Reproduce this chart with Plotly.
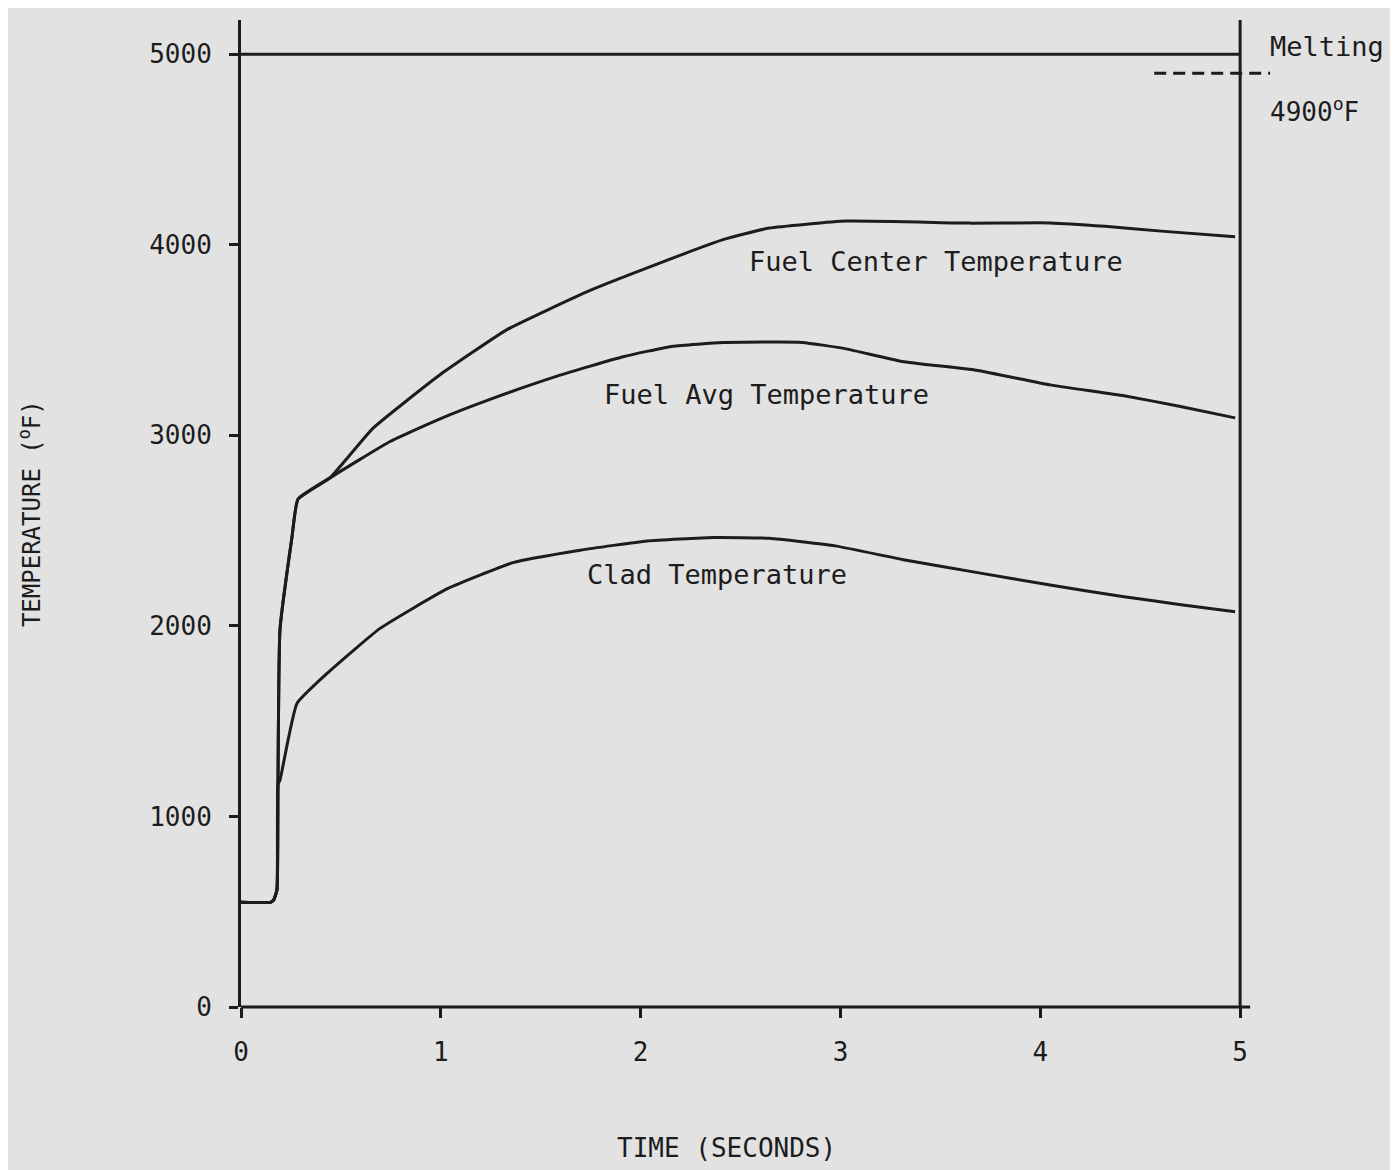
import plotly.graph_objects as go

# time (s) and temperature (deg F)
t_center = [0, 0.15, 0.165, 0.18, 0.185, 0.195, 0.255, 0.285, 0.445, 0.661,
            0.996, 1.331, 1.747, 2.082, 2.412, 2.643, 3.028, 3.644, 4.049,
            4.324, 4.605, 4.975]
temp_center = [550, 550, 565, 615, 1170, 1980, 2465, 2665, 2777, 3038,
               3318, 3555, 3761, 3899, 4027, 4088, 4125, 4114, 4115,
               4097, 4072, 4042]

t_avg = [0, 0.15, 0.165, 0.18, 0.185, 0.195, 0.255, 0.285, 0.445, 0.746,
         0.996, 1.246, 1.582, 1.912, 2.162, 2.412, 2.808, 3.028, 3.308,
         3.679, 4.049, 4.419, 4.695, 4.975]
temp_avg = [550, 550, 565, 615, 1170, 1980, 2465, 2665, 2777, 2968,
            3087, 3189, 3311, 3413, 3468, 3487, 3488, 3454, 3388,
            3342, 3265, 3208, 3153, 3092]

t_clad = [0, 0.15, 0.165, 0.18, 0.185, 0.195, 0.28, 0.445, 0.696, 1.031,
          1.361, 1.697, 2.032, 2.362, 2.643, 2.973, 3.308, 3.679, 4.049,
          4.419, 4.695, 4.975]
temp_clad = [550, 550, 565, 615, 1170, 1190, 1593, 1764, 1987, 2194,
             2332, 2397, 2446, 2464, 2460, 2420, 2349, 2281, 2215,
             2153, 2113, 2074]

x_ticks = [0, 1, 2, 3, 4, 5]
y_ticks = [0, 1000, 2000, 3000, 4000, 5000]

LIMIT_TEMP = 5000
MELT_TEMP = 4900
MELT_SPAN = [4.57, 5.15]
T_END = 5

INK = "#1c1c1c"
PAPER = "#e2e2e2"
FONT = "DejaVu Sans Mono"

fig = go.Figure()

for xs, ys in [(t_center, temp_center), (t_avg, temp_avg), (t_clad, temp_clad)]:
    fig.add_trace(go.Scatter(
        x=xs, y=ys, mode="lines",
        line=dict(color=INK, width=3, shape="spline", smoothing=0.4),
        hoverinfo="skip",
    ))

# 5000 F reference line and the dashed melting line
fig.add_trace(go.Scatter(
    x=[0, T_END], y=[LIMIT_TEMP, LIMIT_TEMP], mode="lines",
    line=dict(color=INK, width=3), hoverinfo="skip",
))
fig.add_trace(go.Scatter(
    x=MELT_SPAN, y=[MELT_TEMP, MELT_TEMP], mode="lines",
    line=dict(color=INK, width=3, dash="12px,7px"), hoverinfo="skip",
))

# bottom axis and right border drawn by hand
fig.add_shape(type="line", xref="x", yref="paper", x0=0, x1=5.05, y0=0, y1=0,
              line=dict(color=INK, width=3))
fig.add_shape(type="line", xref="x", yref="y", x0=T_END, x1=T_END, y0=0, y1=5180,
              line=dict(color=INK, width=3))

label_font = dict(family=FONT, size=27, color=INK)
fig.add_annotation(x=3.48, y=3915, text="Fuel Center Temperature", showarrow=False,
                   font=label_font)
fig.add_annotation(x=2.63, y=3212, text="Fuel Avg Temperature", showarrow=False,
                   font=label_font)
fig.add_annotation(x=2.38, y=2272, text="Clad Temperature", showarrow=False,
                   font=label_font)
fig.add_annotation(x=5.14, y=5043, text="Melting", showarrow=False, xanchor="left",
                   font=label_font)
fig.add_annotation(x=5.14, y=4708, text="4900<sup>o</sup>F", showarrow=False,
                   xanchor="left", font=dict(family=FONT, size=26, color=INK))

fig.add_annotation(x=2.43, y=-0.143, yref="paper", text="TIME (SECONDS)",
                   showarrow=False, yanchor="middle",
                   font=dict(family=FONT, size=26, color=INK))
fig.add_annotation(x=-0.184, xref="paper", y=0.50, yref="paper",
                   text="TEMPERATURE (<sup>o</sup>F)", textangle=-90,
                   showarrow=False, xanchor="center", yanchor="middle",
                   font=dict(family=FONT, size=24, color=INK))

fig.update_layout(
    width=1398, height=1170,
    margin=dict(l=233, r=16, t=12, b=171),
    paper_bgcolor=PAPER, plot_bgcolor=PAPER,
    showlegend=False,
    xaxis=dict(
        range=[0, 5.75], tickvals=x_ticks, ticks="outside", ticklen=10,
        tickwidth=2.5, tickcolor=INK, showline=False, showgrid=False,
        zeroline=False, ticklabelstandoff=12,
        tickfont=dict(family=FONT, size=26, color=INK),
    ),
    yaxis=dict(
        range=[0, 5180], tickvals=y_ticks, ticks="outside", ticklen=9,
        tickwidth=2.5, tickcolor=INK, showline=True, linecolor=INK, linewidth=3,
        showgrid=False, zeroline=False, ticklabelstandoff=12,
        tickfont=dict(family=FONT, size=26, color=INK),
    ),
)

fig.write_html("out.html")
